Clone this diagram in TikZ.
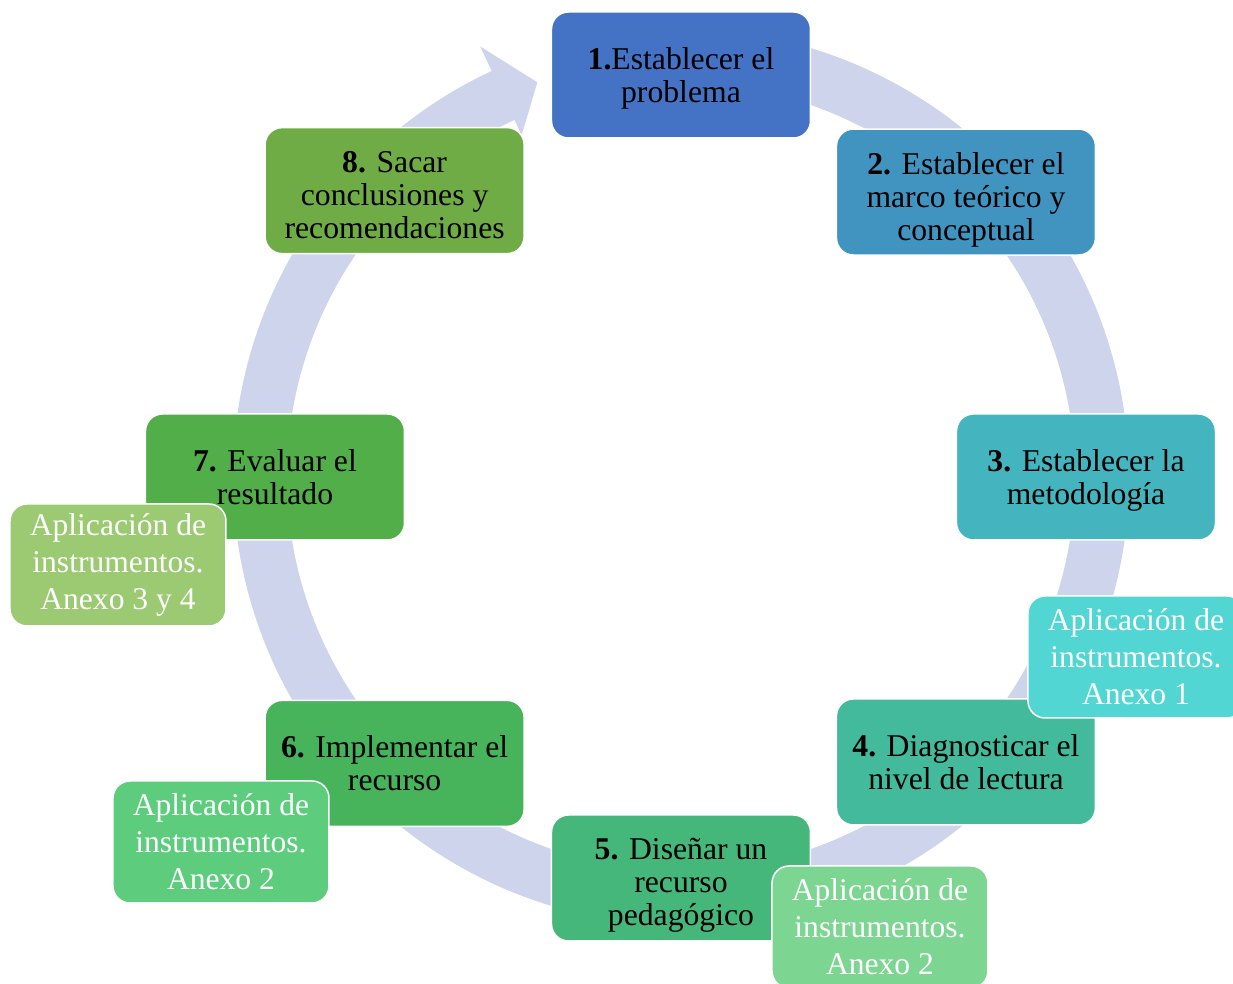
\documentclass[tikz,border=0pt]{standalone}
\usepackage{fontspec}
\setmainfont{Liberation Serif}
\usetikzlibrary{backgrounds, scopes, positioning}
\definecolor{stageA}{HTML}{4472C4}
\definecolor{stageB}{HTML}{4194C0}
\definecolor{stageC}{HTML}{44B5BE}
\definecolor{stageD}{HTML}{44BA9D}
\definecolor{stageE}{HTML}{45B77A}
\definecolor{stageF}{HTML}{47B45B}
\definecolor{stageG}{HTML}{52AE48}
\definecolor{stageH}{HTML}{70AC46}
\definecolor{noteA}{HTML}{52D6D3}
\definecolor{noteB}{HTML}{7DD592}
\definecolor{noteC}{HTML}{5ECC7D}
\definecolor{noteD}{HTML}{9BCA73}
\definecolor{ringcol}{HTML}{CED4EB}
\tikzset{
    mybox/.style={
        rectangle,
        rounded corners=8.5pt,
        draw=white,
        line width=0.75pt,
        inner sep=0pt,
        align=center
    },
    mystage/.style={
        mybox,
        minimum width=129.5pt,
        minimum height=63pt,
        text depth=0pt,
        text=black,
        font=\fontsize{15.85}{16.5}\selectfont
    },
    threelines/.style={text height=48pt},
    mynote/.style={
        mybox,
        minimum width=108pt,
        minimum height=61pt,
        text=white,
        font=\fontsize{15.8}{18.5}\selectfont
    },
    myring/.style={fill=ringcol}
}

\begin{document}
\begin{tikzpicture}[x=0.5pt, y=0.5pt]
\useasboundingbox (-681,-507) rectangle (552,477);
\node[mystage, fill=stageA] (S1) at (90:402)  {\textbf{1.}Establecer el\\problema};
\node[mystage, threelines, fill=stageB] (S2) at (45:403)  {\textbf{2.} Establecer el\\marco teórico y\\conceptual};
\node[mystage, fill=stageC] (S3) at (0:405)   {\textbf{3.} Establecer la\\metodología};
\node[mystage, fill=stageD] (S4) at (-45:403) {\textbf{4.} Diagnosticar el\\nivel de lectura};
\node[mystage, threelines, fill=stageE] (S5) at (-90:401) {\textbf{5.} Diseñar un\\recurso\\pedagógico};
\node[mystage, fill=stageF] (S6) at (-135:405) {\textbf{6.} Implementar el\\recurso};
\node[mystage, fill=stageG] (S7) at (180:406) {\textbf{7.} Evaluar el\\resultado};
\node[mystage, threelines, fill=stageH] (S8) at (135:405) {\textbf{8.} Sacar\\conclusiones y\\recomendaciones};

\node[mynote, fill=noteA] (N1) at (455,-180)  {Aplicación de\\instrumentos.\\Anexo 1};
\node[mynote, fill=noteB] (N2) at (199,-450)  {Aplicación de\\instrumentos.\\Anexo 2};
\node[mynote, fill=noteC] (N3) at (-460,-365) {Aplicación de\\instrumentos.\\Anexo 2};
\node[mynote, fill=noteD] (N4) at (-563,-88)  {Aplicación de\\instrumentos.\\Anexo 3 y 4};

\scoped[on background layer]
    \fill[myring] (100:448) arc[start angle=100, end angle=-245, radius=448]
        -- (-245:475) -- (-250:420) -- (-245:377) -- (-245:394)
        arc[start angle=-245, end angle=100, radius=394] -- cycle;
\end{tikzpicture}
\end{document}
